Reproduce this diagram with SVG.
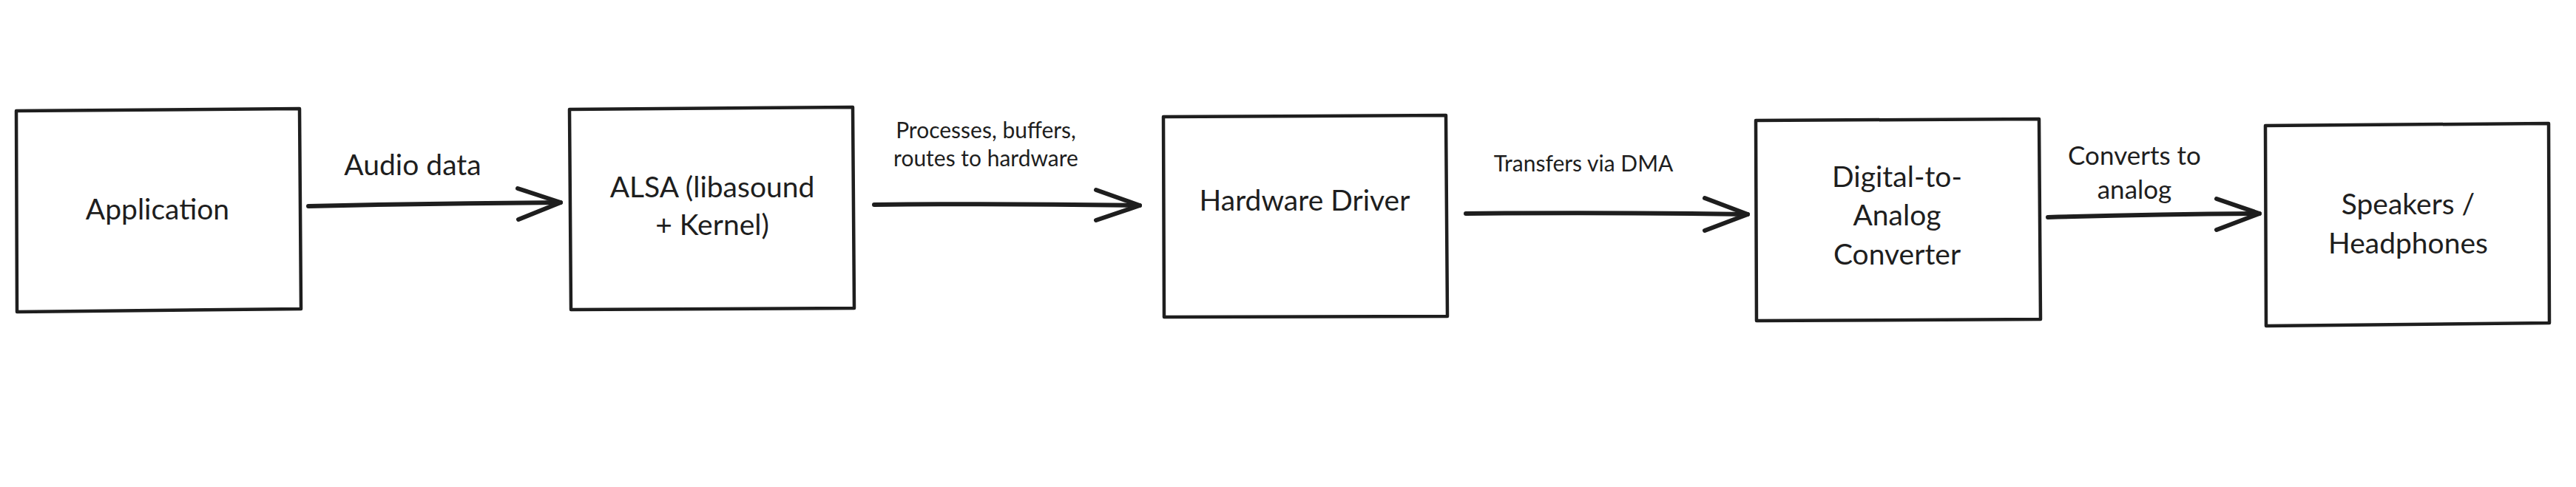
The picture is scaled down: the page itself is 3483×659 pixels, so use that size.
<svg xmlns="http://www.w3.org/2000/svg" width="3483" height="659" viewBox="0 0 3483 659">
<style>
.box{fill:#ffffff;stroke:#1e1e1e;stroke-width:4.5;stroke-linejoin:round;stroke-linecap:round}
.edge{fill:none;stroke:#1e1e1e;stroke-width:6;stroke-linecap:round;stroke-linejoin:round}
.t{font-family:Lato,"Noto Sans","Liberation Sans",sans-serif;fill:#1e1e1e;text-anchor:middle}
.n{font-size:39px}
.l1{font-size:39px}
.l2{font-size:35px}
.l3{font-size:30px}
</style>
<rect width="3483" height="659" fill="#ffffff"/>
<g id="connectors">
  <g id="e1">
    <path class="edge" d="M417,279 Q590,275 758,274"/>
    <path class="edge" d="M700,255 L758,274 L701,297"/>
    <text class="t l1" x="558" y="237">Audio data</text>
  </g>
  <g id="e2">
    <path class="edge" d="M1182,277 Q1360,275 1541,278"/>
    <path class="edge" d="M1482,257 L1541,278 L1482,298"/>
    <text class="t l3" x="1333" y="187">Processes, buffers,</text>
    <text class="t l3" x="1333" y="225">routes to hardware</text>
  </g>
  <g id="e3">
    <path class="edge" d="M1982,289 Q2170,287 2363,290"/>
    <path class="edge" d="M2305,268 L2363,290 L2305,312"/>
    <text class="t l3" x="2141" y="232">Transfers via DMA</text>
  </g>
  <g id="e4">
    <path class="edge" d="M2769,294 Q2910,290 3055,289"/>
    <path class="edge" d="M2997,269 L3055,289 L2997,311"/>
    <text class="t l2" x="2886" y="223">Converts to</text>
    <text class="t l2" x="2886" y="269">analog</text>
  </g>
</g>
<g id="node-application">
  <path class="box" d="M22,150 L405,147 L407,418 L23,422 Z"/>
  <text class="t n" x="213" y="297">Application</text>
</g>
<g id="node-alsa">
  <path class="box" d="M770,148 L1153,145 L1155,417 L772,419 Z"/>
  <text class="t n" x="963" y="267">ALSA (libasound</text>
  <text class="t n" x="963" y="318">+ Kernel)</text>
</g>
<g id="node-driver">
  <path class="box" d="M1573,158 L1955,156 L1957,428 L1574,429 Z"/>
  <text class="t n" x="1764" y="285">Hardware Driver</text>
</g>
<g id="node-dac">
  <path class="box" d="M2374,163 L2757,161 L2759,432 L2375,434 Z"/>
  <text class="t n" x="2565" y="253">Digital-to-</text>
  <text class="t n" x="2565" y="305">Analog</text>
  <text class="t n" x="2565" y="358">Converter</text>
</g>
<g id="node-speakers">
  <path class="box" d="M3063,170 L3446,167 L3447,437 L3064,441 Z"/>
  <text class="t n" x="3256" y="290">Speakers /</text>
  <text class="t n" x="3256" y="343">Headphones</text>
</g>
</svg>
